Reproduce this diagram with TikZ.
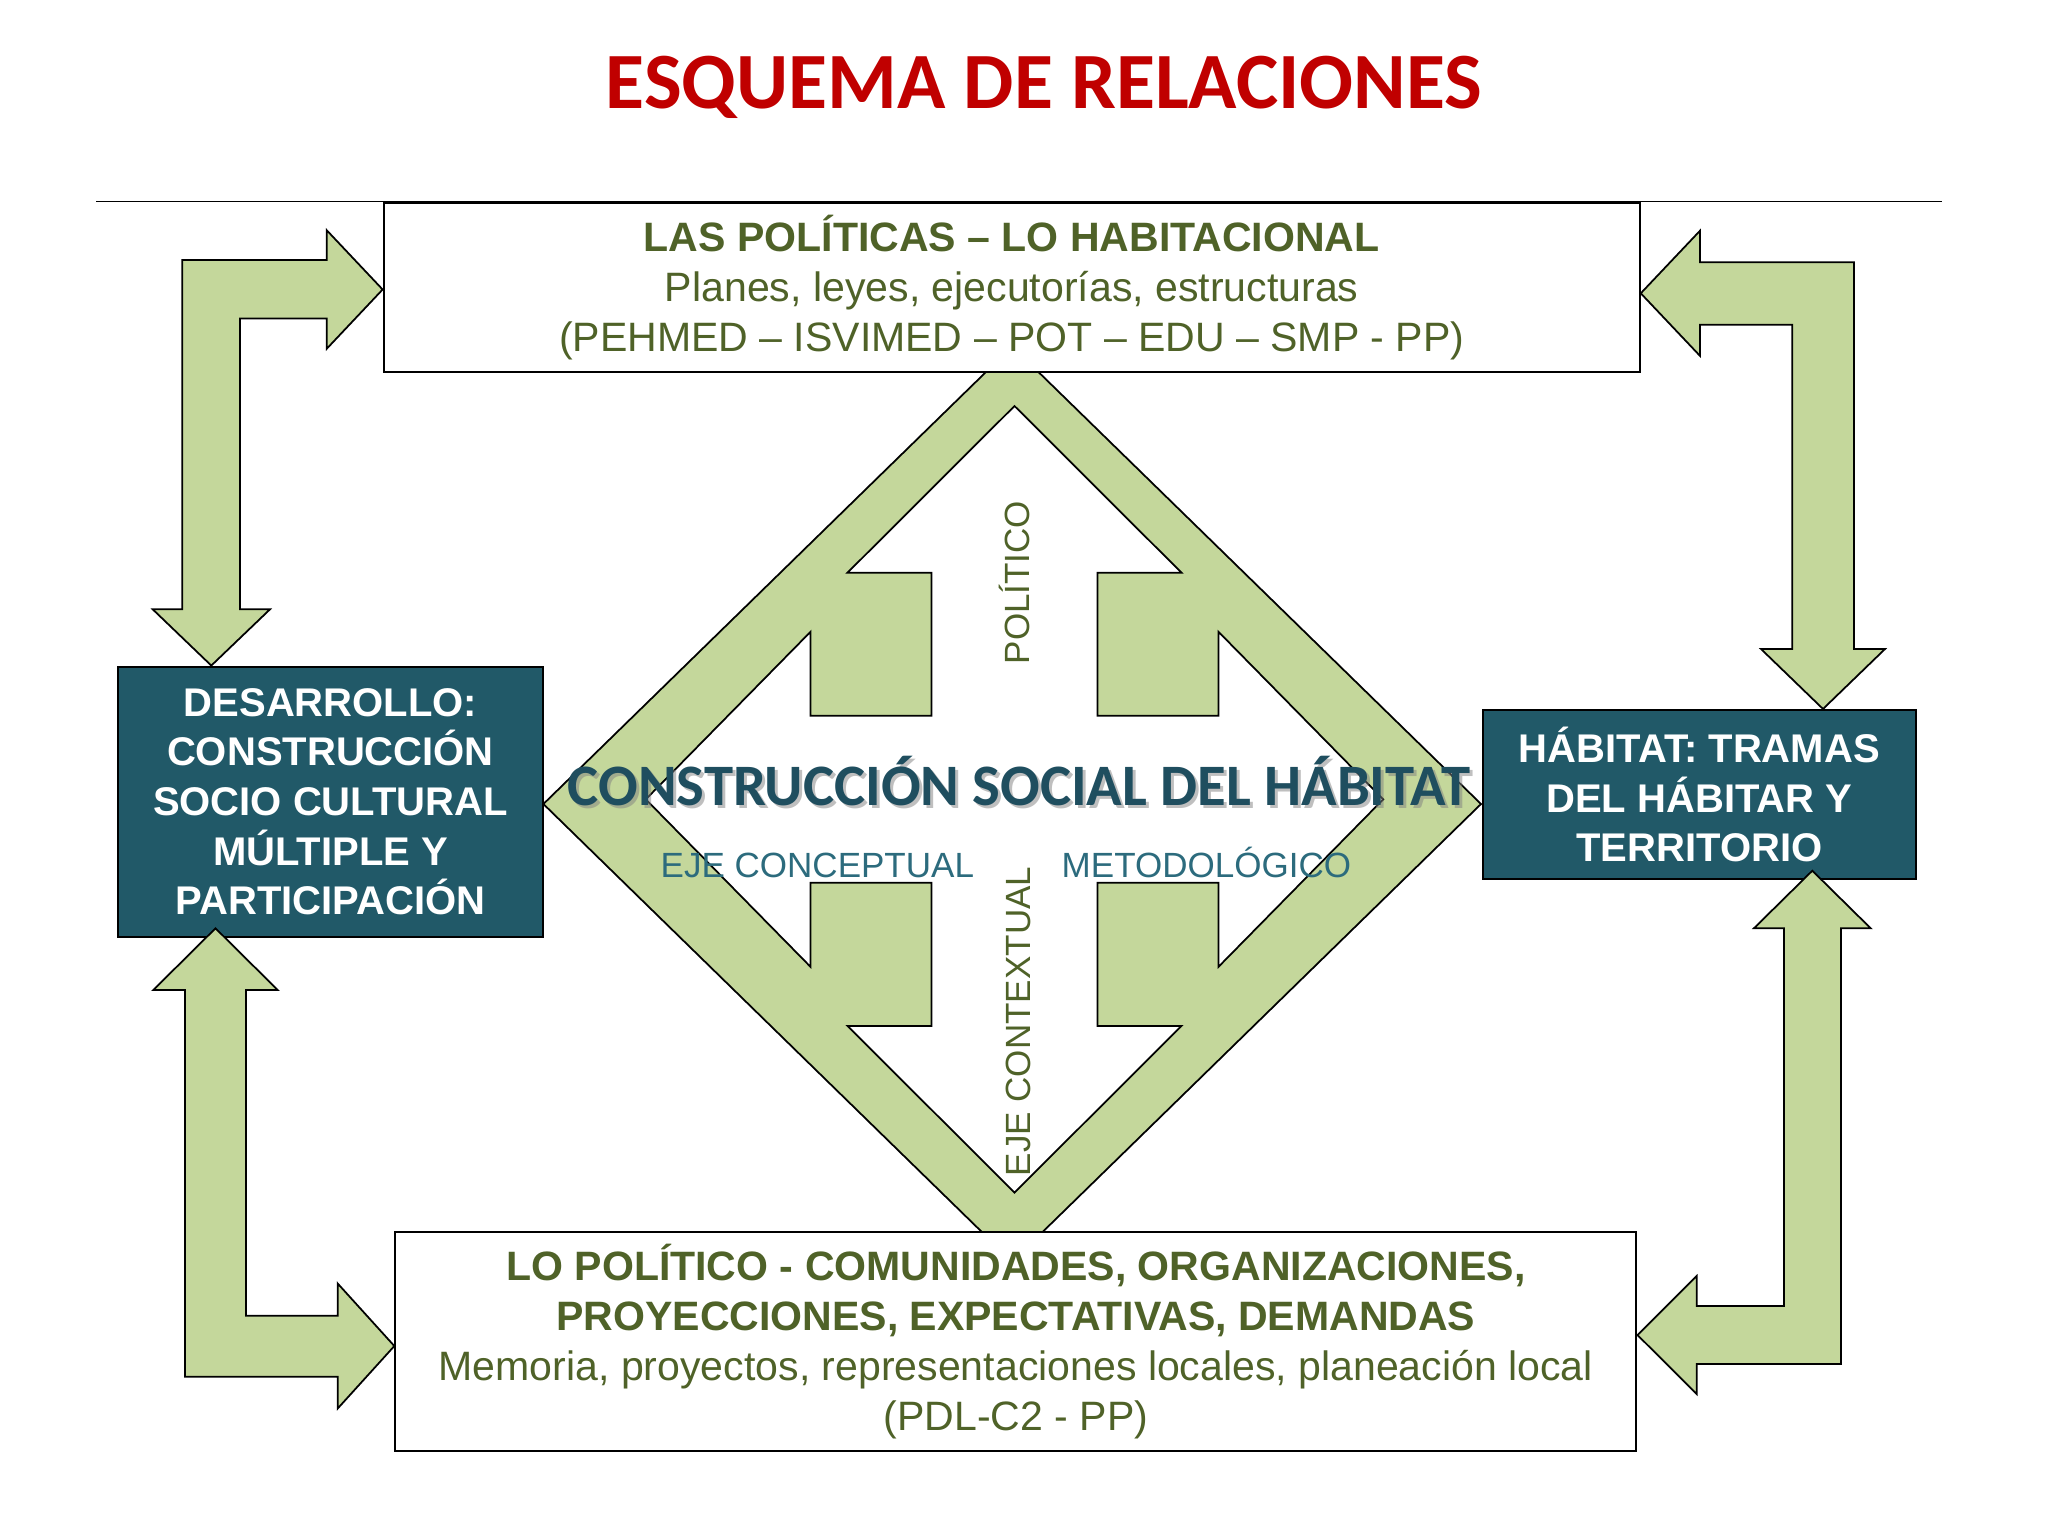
\documentclass[tikz,border=0pt]{standalone}
\usepackage{fontspec}
\setmainfont{Liberation Sans}
\newfontfamily\calfont{Carlito}
\usetikzlibrary{positioning,calc}
\definecolor{habGreen}{HTML}{C4D79B}
\definecolor{habTeal}{HTML}{215968}
\definecolor{habOlive}{HTML}{4F6228}
\definecolor{habRed}{HTML}{C00000}
\definecolor{habDark}{HTML}{1F4E5F}
\definecolor{habMid}{HTML}{2C6B7D}
\newcommand{\fpx}[2]{\fontsize{#1}{#2}\selectfont}

\begin{document}
\begin{tikzpicture}[
x=0.01cm, y=-0.01cm,
boxW/.style={draw, line width=0.6pt, fill=white, inner sep=0pt, align=center, text=habOlive, font=\fpx{11.67pt}{14.23pt}},
boxT/.style={draw, line width=0.6pt, fill=habTeal, inner sep=0pt, align=center, text=white, font=\fpx{11.38pt}{14.08pt}\bfseries},
blockArr/.style={draw, line width=0.5pt, fill=habGreen, line join=miter},
ejeTxt/.style={inner sep=0pt, font=\fpx{9.96pt}{12pt}},
bigTxt/.style={anchor=base, inner sep=0pt, font=\calfont\bfseries\fpx{16.7pt}{20pt}}
]
\useasboundingbox (0,0) rectangle (2048,1536);

% Title and rule
\node[anchor=base, inner sep=0pt, text=habRed, font=\calfont\bfseries\fpx{22.7pt}{28pt}] (title) at (1044,108) {ESQUEMA DE RELACIONES};
\coordinate (ruleL) at (96,201.7);
\coordinate (ruleR) at (1942,201.7);
\draw[line width=0.4pt] (ruleL) -- (ruleR);

% Green diamond with white quad arrow
\draw[blockArr] (1012.2,346.4) -- (1481,804) -- (1012.2,1261.6) -- (543.4,804) -- cycle;
\draw[line width=0.5pt, fill=white, line join=miter] (1014.5,406) -- (1181.5,572.7) -- (1097.5,572.7) -- (1097.5,715.8) -- (1218.5,715.8) -- (1218.5,631.8) -- (1383.2,799.3) -- (1218.5,966.8) -- (1218.5,882.8) -- (1097.5,882.8) -- (1097.5,1025.9) -- (1181.5,1025.9) -- (1014.5,1192.6) -- (847.5,1025.9) -- (931.5,1025.9) -- (931.5,882.8) -- (810.5,882.8) -- (810.5,966.8) -- (645.8,799.3) -- (810.5,631.8) -- (810.5,715.8) -- (931.5,715.8) -- (931.5,572.7) -- (847.5,572.7) -- cycle;

% Axis labels
\node[bigTxt, text=black!50, opacity=0.5] (CSHshadow) at (1022,808) {CONSTRUCCIÓN SOCIAL DEL HÁBITAT};
\node[bigTxt, text=habDark] (CSH) at (1019,805) {CONSTRUCCIÓN SOCIAL DEL HÁBITAT};
\node[ejeTxt, anchor=base west, text=habMid] (EJC) at (660,877.3) {EJE CONCEPTUAL};
\node[ejeTxt, anchor=base west, text=habMid] (MET) at (1061,877.3) {METODOLÓGICO};
\node[ejeTxt, rotate=90, anchor=base, text=habOlive] (POLI) at (1029.3,582.5) {POLÍTICO};
\node[ejeTxt, rotate=90, anchor=base, text=habOlive] (EJX) at (1030,1021.5) {EJE CONTEXTUAL};

% Boxes
\node[boxW, minimum width=12.553cm, minimum height=1.69cm] (POL) at (1011.7,287.2) {\textbf{LAS POLÍTICAS – LO HABITACIONAL}\\Planes, leyes, ejecutorías, estructuras\\(PEHMED – ISVIMED – POT – EDU – SMP - PP)};
\node[boxW, minimum width=12.403cm, minimum height=2.184cm] (COM) at (1015.9,1341.5) {\textbf{LO POLÍTICO - COMUNIDADES, ORGANIZACIONES,}\\\textbf{PROYECCIONES, EXPECTATIVAS, DEMANDAS}\\Memoria, proyectos, representaciones locales, planeación local\\(PDL-C2 - PP)};
\node[boxT, minimum width=4.256cm, minimum height=2.70cm] (DES) at (330.5,801.7) {DESARROLLO:\\CONSTRUCCIÓN\\SOCIO CULTURAL\\MÚLTIPLE Y\\PARTICIPACIÓN};
\node[boxT, minimum width=4.333cm, minimum height=1.693cm] (HAB) at (1699.4,794.7) {HÁBITAT: TRAMAS\\DEL HÁBITAR Y\\TERRITORIO};

% Block arrows between boxes
\draw[blockArr] (182.3,260) -- (326.7,260) -- (326.7,230.2) -- (POL.west |- 0,289.5) -- (326.7,348.8) -- (326.7,318.6) -- (240,318.6) -- (240,609.3) -- (270,609.3) -- (211.3,0 |- DES.north) -- (152.7,609.3) -- (182.3,609.3) -- cycle;
\draw[blockArr] (1854,262.3) -- (1700,262.3) -- (1700,230.7) -- (POL.east |- 0,293.3) -- (1700,355.9) -- (1700,324.7) -- (1792.3,324.7) -- (1792.3,649) -- (1761,649) -- (1823,0 |- HAB.north) -- (1885,649) -- (1854,649) -- cycle;
\draw[blockArr] (185,1376.7) -- (185,990) -- (153.3,990) -- (215.5,928.3) -- (277.7,990) -- (246,990) -- (246,1315.7) -- (337.7,1315.7) -- (337.7,1283.5) -- (COM.west |- 0,1346) -- (337.7,1408.5) -- (337.7,1376.7) -- cycle;
\draw[blockArr] (1841,1364) -- (1841,928.3) -- (1870.7,928.3) -- (1812.3,870.7) -- (1753.9,928.3) -- (1784,928.3) -- (1784,1306) -- (1696.7,1306) -- (1696.7,1276) -- (COM.east |- 0,1335) -- (1696.7,1394) -- (1696.7,1364) -- cycle;

\end{tikzpicture}
\end{document}
